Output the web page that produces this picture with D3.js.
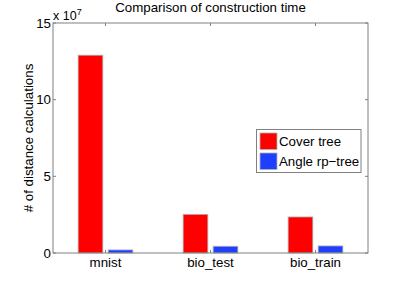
<!DOCTYPE html>
<html>
<head>
<meta charset="utf-8">
<script src="https://cdn.jsdelivr.net/npm/d3@7"></script>
<style>
  body { margin: 0; background: #fff; }
  text { font-family: "Liberation Sans", Arial, sans-serif; fill: #000; }
</style>
</head>
<body>
<div id="canvas"></div>
<script>
let categories = ["mnist", "bio_test", "bio_train"];
let seriesNames = ["Cover tree", "Angle rp\u2212tree"];
let coverTree = [12.9, 2.52, 2.35];    // x 10^7
let angleRpTree = [0.2, 0.44, 0.46];   // x 10^7
let yTicks = [0, 5, 10, 15];
let colors = ["#ff0000", "#1f3fff"];

let margin = { top: 23, right: 39, bottom: 32, left: 53 },
  width = 407 - margin.left - margin.right,
  height = 285 - margin.top - margin.bottom;

let svg = d3
  .select("#canvas")
  .append("svg")
  .attr("width", 407)
  .attr("height", 285)
  .append("g")
  .attr("transform", "translate(" + margin.left + "," + margin.top + ")");

// x is a linear scale over category index like matlab's bar()
let xScale = d3.scaleLinear().domain([0.5, 3.5]).range([0, width]);
let yScale = d3.scaleLinear().domain([0, 15]).range([height, 0]);

let series = [coverTree, angleRpTree];
let offsets = [-0.143, 0.143];
let barW = 0.235;
let fs = "13.3px";

series.forEach(function (vals, s) {
  svg.selectAll(".bar-" + s)
    .data(vals)
    .enter()
    .append("rect")
    .attr("class", "bar-" + s)
    .attr("x", (d, i) => xScale(i + 1 + offsets[s] - barW / 2))
    .attr("y", d => yScale(d))
    .attr("width", xScale(barW) - xScale(0))
    .attr("height", d => height - yScale(d))
    .attr("fill", colors[s])
    .attr("stroke", "#b0b0b0")
    .attr("stroke-width", 0.8);
});

// frame box
svg.append("rect")
  .attr("width", width)
  .attr("height", height)
  .attr("fill", "none")
  .attr("stroke", "#808080")
  .attr("stroke-width", 1);

// ticks (inward, on both sides)
let axisColor = "#808080";
yTicks.forEach(function (t) {
  svg.append("line").attr("x1", 0).attr("x2", 3)
    .attr("y1", yScale(t)).attr("y2", yScale(t)).attr("stroke", axisColor);
  svg.append("line").attr("x1", width - 3).attr("x2", width)
    .attr("y1", yScale(t)).attr("y2", yScale(t)).attr("stroke", axisColor);
  svg.append("text")
    .attr("x", -2)
    .attr("y", yScale(t))
    .attr("dy", "0.36em")
    .attr("text-anchor", "end")
    .style("font-size", fs)
    .text(t);
});

categories.forEach(function (c, i) {
  let x = xScale(i + 1);
  svg.append("line").attr("x1", x).attr("x2", x)
    .attr("y1", height).attr("y2", height - 3).attr("stroke", axisColor);
  svg.append("line").attr("x1", x).attr("x2", x)
    .attr("y1", 0).attr("y2", 3).attr("stroke", axisColor);
  svg.append("text")
    .attr("x", x)
    .attr("y", height + 14)
    .attr("text-anchor", "middle")
    .style("font-size", fs)
    .text(c);
});

// exponent label
let expo = svg.append("text")
  .attr("x", 0)
  .attr("y", -3)
  .style("font-size", "12.5px");
expo.append("tspan").text("x 10");
expo.append("tspan").attr("dy", "-5").style("font-size", "9px").text("7");

// y label
svg.append("text")
  .attr("transform", "translate(" + (-20.5) + "," + (height / 2 + 23 - 138 + 115) + ") rotate(-90)")
  .attr("text-anchor", "middle")
  .style("font-size", fs)
  .text("# of distance calculations");

// title
svg.append("text")
  .attr("x", width / 2)
  .attr("y", -11)
  .attr("text-anchor", "middle")
  .style("font-size", fs)
  .text("Comparison of construction time");

// legend
let legend = svg.append("g")
  .attr("transform", "translate(" + (256.5 - margin.left) + "," + (129.5 - margin.top) + ")");

legend.append("rect")
  .attr("width", 104.5)
  .attr("height", 43)
  .attr("fill", "#fff")
  .attr("stroke", "#808080");

seriesNames.forEach(function (n, i) {
  legend.append("rect")
    .attr("x", 3.5)
    .attr("y", 3.5 + i * 20)
    .attr("width", 17)
    .attr("height", 16.5)
    .attr("fill", colors[i])
    .attr("stroke", "#b0b0b0")
    .attr("stroke-width", 0.8);
  legend.append("text")
    .attr("x", 22.5)
    .attr("y", 12 + i * 20)
    .attr("dy", "0.36em")
    .style("font-size", fs)
    .text(n);
});
</script>
</body>
</html>
